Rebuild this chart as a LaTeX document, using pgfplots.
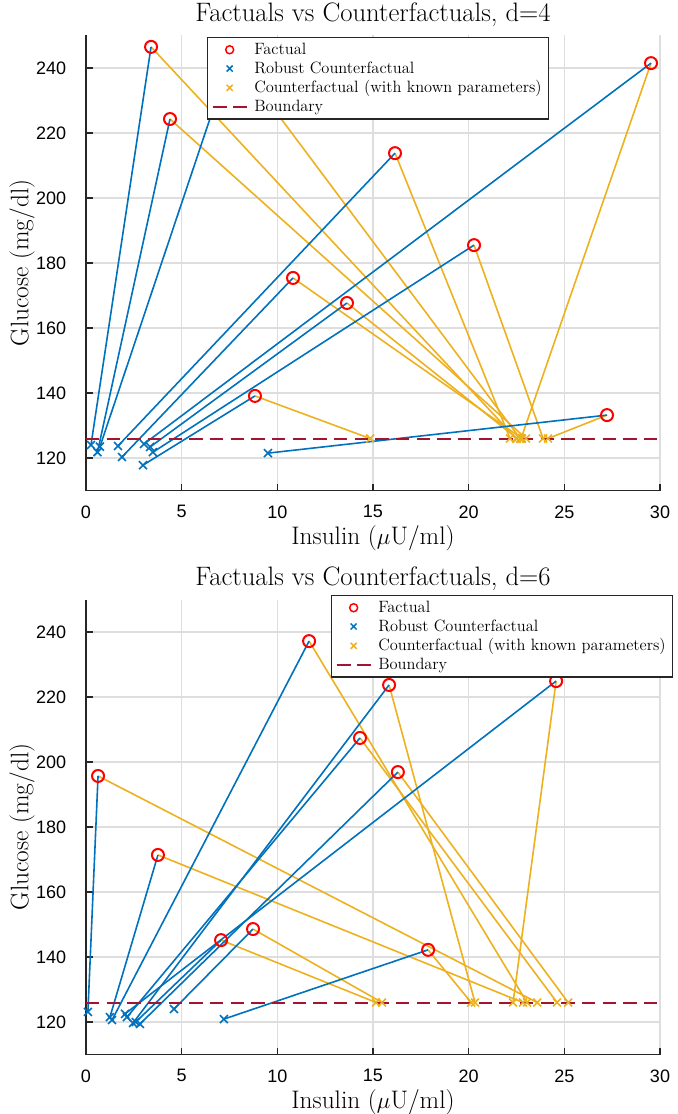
\documentclass[border=0pt]{standalone}
\usepackage{fontspec}
\newfontfamily\ticksf{Liberation Sans}
\usepackage{pgfplots}
\usepackage{pgfplotstable}
\pgfplotsset{compat=1.18}

\definecolor{mblue}{rgb}{0,0.447,0.741}
\definecolor{morange}{rgb}{0.929,0.694,0.125}
\definecolor{mbound}{rgb}{0.635,0.078,0.184}

% factual (fx,fy), robust counterfactual (rx,ry), counterfactual with known parameters (kx,ky)
\pgfplotstableread{
fx     fy     rx    ry     kx     ky
3.40   246.5  0.26  124.0  22.48  126
4.39   224.3  0.60  121.8  23.00  126
7.63   244.6  0.73  123.5  22.69  126
16.15  213.8  1.67  123.7  22.16  126
20.28  185.5  3.50  121.8  23.89  126
10.82  175.4  1.88  120.3  22.79  126
13.64  167.7  3.35  123.4  22.53  126
8.83   139.1  2.98  117.8  14.85  126
29.53  241.5  3.03  124.3  22.74  126
27.23  133.2  9.51  121.5  24.15  126
}\dfour

\pgfplotstableread{
fx     fy     rx    ry     kx     ky
0.63   195.7  0.10  123.1  23.58  126
3.76   171.4  1.25  121.5  22.84  126
7.06   145.2  2.60  120.0  15.16  126
8.73   148.6  4.60  124.0  15.47  126
11.66  237.2  1.36  120.6  23.05  126
14.32  207.4  2.14  121.5  24.62  126
15.84  223.7  2.46  119.7  20.33  126
16.30  196.9  2.82  119.4  25.20  126
17.88  142.2  7.21  120.9  20.13  126
24.57  224.9  2.04  122.5  22.32  126
}\dsix

\pgfplotsset{
  legmark/.style={legend image code/.code={\draw[mark repeat=2,mark phase=2,##1] plot coordinates {(0cm,0cm) (0.45cm,0cm) (0.9cm,0cm)};}},
  legline/.style={legend image code/.code={\draw[##1] (0cm,0cm) -- (0.9cm,0cm);}},
  panel/.style={
    scale only axis, width=430.5pt, height=341.25pt,
    xmin=0, xmax=30, ymin=110, ymax=250,
    xtick={0,5,...,30}, ytick={120,140,...,240},
    axis x line*=bottom, axis y line*=left,
    axis line style={black!85, line width=1.2pt},
    tick align=inside, major tick length=5pt,
    tick style={black!85, line width=1.2pt},
    grid=major, major grid style={black!13, line width=1pt},
    tick label style={font=\ticksf\fontsize{13.5}{16}\selectfont},
    /pgf/number format/assume math mode=true,
    xticklabel style={anchor=center, yshift=-16pt},
    yticklabel style={anchor=east, inner sep=0pt, xshift=-14.6pt},
    label style={font=\fontsize{19}{22}\selectfont},
    xlabel={Insulin ($\mu$U/ml)}, ylabel={Glucose (mg/dl)},
    xlabel style={at={(axis description cs:0.5,-0.1043)}, anchor=center},
    ylabel style={at={(axis description cs:-0.1115,0.5)}, anchor=center},
    title style={font=\fontsize{20}{23}\selectfont, at={(axis description cs:0.5,1.013)}, anchor=base, yshift=0pt},
    legend style={font=\fontsize{12.3}{14}\selectfont, draw=black!85, line width=1.1pt,
      fill=white, anchor=north west, cells={anchor=west}, column sep=3pt},
  },
  cflines/.style={line width=1.2pt, forget plot},
}

\begin{document}
\begin{tikzpicture}
\useasboundingbox (-64.5pt,-467.625pt) rectangle (444pt,367.875pt);

\begin{axis}[panel, at={(0pt,0pt)}, title={Factuals vs Counterfactuals, d=4},
  legend style={at={(0.2108,0.9967)}}]
\addlegendimage{only marks, mark=o, red, mark size=3pt, line width=1.1pt, legmark}
\addlegendimage{only marks, mark=x, mblue, mark size=3.2pt, line width=1.1pt, legmark}
\addlegendimage{only marks, mark=x, morange, mark size=3.2pt, line width=1.1pt, legmark}
\addlegendimage{mbound, line width=1.3pt, dash pattern=on 11pt off 4.5pt, legline}
\addplot[morange, cflines, -, quiver={u=\thisrow{kx}-\thisrow{fx}, v=\thisrow{ky}-\thisrow{fy}}] table[x=fx, y=fy] {\dfour};
\addplot[mblue, cflines, -, quiver={u=\thisrow{rx}-\thisrow{fx}, v=\thisrow{ry}-\thisrow{fy}}] table[x=fx, y=fy] {\dfour};
\addplot[only marks, forget plot, mark=o, red, mark size=4.5pt, line width=1.5pt] table[x=fx, y=fy] {\dfour};
\addplot[only marks, forget plot, mark=x, mblue, mark size=4.2pt, line width=1.2pt] table[x=rx, y=ry] {\dfour};
\addplot[only marks, forget plot, mark=x, morange, mark size=4.2pt, line width=1.2pt] table[x=kx, y=ky] {\dfour};
\addplot[mbound, forget plot, line width=1.5pt, dash pattern=on 10pt off 5.5pt] coordinates {(0,126) (30,126)};
\legend{Factual, Robust Counterfactual, Counterfactual (with known parameters), Boundary}
\end{axis}

\begin{axis}[panel, at={(0pt,-423pt)}, title={Factuals vs Counterfactuals, d=6},
  legend style={at={(0.4268,1.0099)}}]
\addlegendimage{only marks, mark=o, red, mark size=3pt, line width=1.1pt, legmark}
\addlegendimage{only marks, mark=x, mblue, mark size=3.2pt, line width=1.1pt, legmark}
\addlegendimage{only marks, mark=x, morange, mark size=3.2pt, line width=1.1pt, legmark}
\addlegendimage{mbound, line width=1.3pt, dash pattern=on 11pt off 4.5pt, legline}
\addplot[morange, cflines, -, quiver={u=\thisrow{kx}-\thisrow{fx}, v=\thisrow{ky}-\thisrow{fy}}] table[x=fx, y=fy] {\dsix};
\addplot[mblue, cflines, -, quiver={u=\thisrow{rx}-\thisrow{fx}, v=\thisrow{ry}-\thisrow{fy}}] table[x=fx, y=fy] {\dsix};
\addplot[only marks, forget plot, mark=o, red, mark size=4.5pt, line width=1.5pt] table[x=fx, y=fy] {\dsix};
\addplot[only marks, forget plot, mark=x, mblue, mark size=4.2pt, line width=1.2pt] table[x=rx, y=ry] {\dsix};
\addplot[only marks, forget plot, mark=x, morange, mark size=4.2pt, line width=1.2pt] table[x=kx, y=ky] {\dsix};
\addplot[mbound, forget plot, line width=1.5pt, dash pattern=on 10pt off 5.5pt] coordinates {(0,126) (30,126)};
\legend{Factual, Robust Counterfactual, Counterfactual (with known parameters), Boundary}
\end{axis}
\end{tikzpicture}
\end{document}
